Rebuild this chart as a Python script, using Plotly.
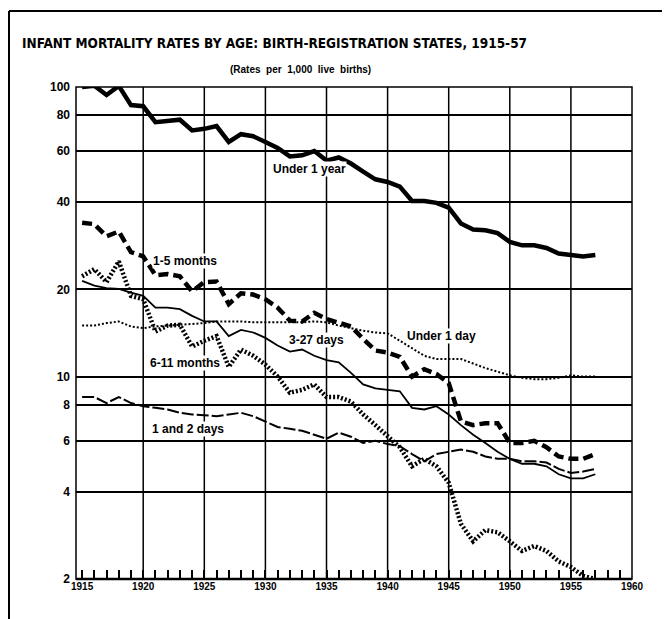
import plotly.graph_objects as go

years = list(range(1915, 1958))

under_1_year = [99.9, 101.0, 93.8, 100.9, 86.6, 85.8, 75.6, 76.2, 77.1, 70.8,
                71.7, 73.3, 64.6, 68.7, 67.6, 64.6, 61.6, 57.6, 58.1, 60.1,
                55.7, 57.1, 54.4, 51.0, 48.0, 47.0, 45.3, 40.4, 40.4, 39.8,
                38.3, 33.8, 32.2, 32.0, 31.3, 29.2, 28.4, 28.4, 27.8, 26.6,
                26.4, 26.0, 26.3]

months_1_5 = [34.0, 33.6, 30.5, 31.7, 26.9, 26.0, 22.4, 22.6, 22.2, 19.7,
              21.2, 21.3, 17.8, 19.4, 19.2, 18.5, 17.3, 15.6, 15.5, 16.6,
              15.8, 15.4, 14.9, 13.5, 12.3, 12.1, 11.7, 10.0, 10.6, 10.2,
              9.5, 7.0, 6.8, 6.9, 6.9, 5.9, 5.9, 6.0, 5.7, 5.3,
              5.2, 5.2, 5.4]

under_1_day = [15.0, 15.0, 15.3, 15.5, 14.9, 14.7, 14.9, 15.0, 15.1, 15.2,
               15.3, 15.5, 15.5, 15.5, 15.4, 15.4, 15.4, 15.4, 15.4, 15.5,
               15.4, 15.0, 14.7, 14.4, 14.2, 14.1, 13.3, 12.5, 11.8, 11.5,
               11.5, 11.5, 11.1, 10.7, 10.4, 10.1, 9.9, 9.8, 9.8, 9.9,
               10.1, 10.0, 10.0]

days_3_27 = [21.4, 20.6, 20.2, 20.1, 19.5, 19.0, 17.3, 17.3, 17.1, 16.2,
             15.5, 15.5, 13.8, 14.5, 14.2, 13.6, 12.8, 12.2, 12.4, 11.8,
             11.4, 11.2, 10.3, 9.4, 9.1, 9.0, 8.9, 7.8, 7.7, 7.9,
             7.4, 6.8, 6.3, 5.9, 5.5, 5.2, 5.0, 5.0, 4.9, 4.6,
             4.45, 4.45, 4.6]

months_6_11 = [22.2, 23.5, 21.2, 25.0, 19.0, 18.5, 14.3, 15.0, 15.1, 12.7,
               13.3, 13.8, 10.8, 12.4, 11.8, 11.0, 10.0, 8.8, 9.0, 9.4,
               8.5, 8.5, 8.2, 7.4, 6.8, 6.2, 5.7, 4.9, 5.2, 4.9,
               4.3, 3.1, 2.7, 2.95, 2.9, 2.7, 2.5, 2.6, 2.5, 2.3,
               2.2, 2.05, 2.0]

days_1_2 = [8.5, 8.5, 8.1, 8.5, 8.1, 7.9, 7.8, 7.7, 7.5, 7.4,
            7.35, 7.3, 7.4, 7.5, 7.3, 7.0, 6.7, 6.6, 6.5, 6.3,
            6.1, 6.4, 6.2, 5.9, 6.0, 5.85, 5.75, 5.4, 5.1, 5.4,
            5.5, 5.6, 5.5, 5.3, 5.2, 5.2, 5.1, 5.1, 5.05, 4.8,
            4.65, 4.7, 4.8]

y_ticks = [2, 4, 6, 8, 10, 20, 40, 60, 80, 100]
x_ticks = list(range(1915, 1961, 5))
x_grid = list(range(1920, 1960, 5))

# the page body adds an 8px margin, so the figure is drawn 8px smaller and all
# target pixel positions are shifted by -8
OFF = 8
W, H = 670 - OFF, 619 - OFF
L, R, T, B = 76 - OFF, 632 - OFF, 87 - OFF, 579 - OFF


def pp(x, y):
    x -= OFF
    y -= OFF
    return (x - L) / (R - L), (B - y) / (B - T)


fig = go.Figure()

series = [
    ("Under 1 year", under_1_year, dict(width=4.5)),
    ("1-5 months", months_1_5, dict(width=4.5, dash="10px,5px")),
    ("Under 1 day", under_1_day, dict(width=2, dash="2px,2px")),
    ("3-27 days", days_3_27, dict(width=1.8)),
    ("6-11 months", months_6_11, dict(width=4.5, dash="2px,2px")),
    ("1 and 2 days", days_1_2, dict(width=2, dash="12px,3px")),
]
for name, vals, ln in series:
    fig.add_trace(go.Scatter(x=years, y=vals, mode="lines", name=name,
                             line=dict(color="black", **ln), showlegend=False))

shapes = []
for xv in x_grid:
    shapes.append(dict(type="line", xref="x", yref="paper", x0=xv, x1=xv,
                       y0=0, y1=1, line=dict(color="black", width=1.5), layer="below"))
shapes.append(dict(type="rect", xref="paper", yref="paper", x0=0, x1=1, y0=0, y1=1,
                   line=dict(color="black", width=1.5)))
shapes.append(dict(type="line", xref="paper", yref="paper", x0=0, x1=1, y0=0, y1=0,
                   line=dict(color="black", width=2.5)))
# outer frame (top and left edges)
x0, y0 = pp(9, 11)
x1, y1 = pp(680, 640)
shapes.append(dict(type="line", xref="paper", yref="paper", x0=x0, x1=x1, y0=y0, y1=y0,
                   line=dict(color="black", width=2)))
shapes.append(dict(type="line", xref="paper", yref="paper", x0=x0, x1=x0, y0=y0, y1=y1,
                   line=dict(color="black", width=2)))

annotations = []
lab_font = dict(family="Liberation Sans, Arial, sans-serif", size=12, color="black")
labels = [
    ("Under 1 year", 309, 169),
    ("1-5 months", 185, 261),
    ("3-27 days", 316, 340),
    ("Under 1 day", 441, 336),
    ("6-11 months", 185, 363),
    ("1 and 2 days", 188, 429),
]
for text, px, py in labels:
    ax, ay = pp(px, py)
    annotations.append(dict(text="<b>" + text + "</b>", x=ax, y=ay, xref="paper", yref="paper",
                            showarrow=False, font=lab_font, xanchor="center", yanchor="middle",
                            bgcolor="white", borderpad=0))

tx, ty = pp(20, 43)
annotations.append(dict(text="<b>INFANT MORTALITY RATES BY AGE: BIRTH-REGISTRATION STATES, 1915-57</b>",
                        x=tx, y=ty, xref="paper", yref="paper", showarrow=False,
                        xanchor="left", yanchor="middle",
                        font=dict(family="DejaVu Sans Condensed, Liberation Sans, sans-serif",
                                  size=13.5, color="black")))
sx, sy = pp(300, 70)
annotations.append(dict(text="<b>(Rates  per  1,000  live  births)</b>",
                        x=sx, y=sy, xref="paper", yref="paper", showarrow=False,
                        xanchor="center", yanchor="middle",
                        font=dict(family="Liberation Sans, Arial, sans-serif", size=10, color="black")))

fig.update_layout(
    width=W, height=H,
    margin=dict(l=L, r=W - R, t=T, b=H - B),
    paper_bgcolor="white", plot_bgcolor="white",
    shapes=shapes, annotations=annotations,
    xaxis=dict(range=[1914.5, 1960], tickvals=x_ticks,
               ticktext=["<b>%d</b>" % v for v in x_ticks],
               showgrid=False, zeroline=False, showline=False,
               ticks="inside", ticklen=9, tickwidth=1.5, tickcolor="black",
               minor=dict(dtick=1, tick0=1915, ticks="inside", ticklen=9, tickwidth=1.5,
                          tickcolor="black", showgrid=False),
               tickfont=dict(family="Liberation Sans, Arial, sans-serif", size=10, color="black"),
               ticklabelstandoff=0, automargin=False),
    yaxis=dict(type="log", range=[0.30103, 2], tickvals=y_ticks,
               ticktext=["<b>%d</b>" % v for v in y_ticks],
               showgrid=True, gridcolor="black", gridwidth=1.5,
               zeroline=False, showline=False, ticks="", ticklabelstandoff=5,
               tickfont=dict(family="Liberation Sans, Arial, sans-serif", size=12, color="black"),
               automargin=False),
)

fig.write_html("out.html")
